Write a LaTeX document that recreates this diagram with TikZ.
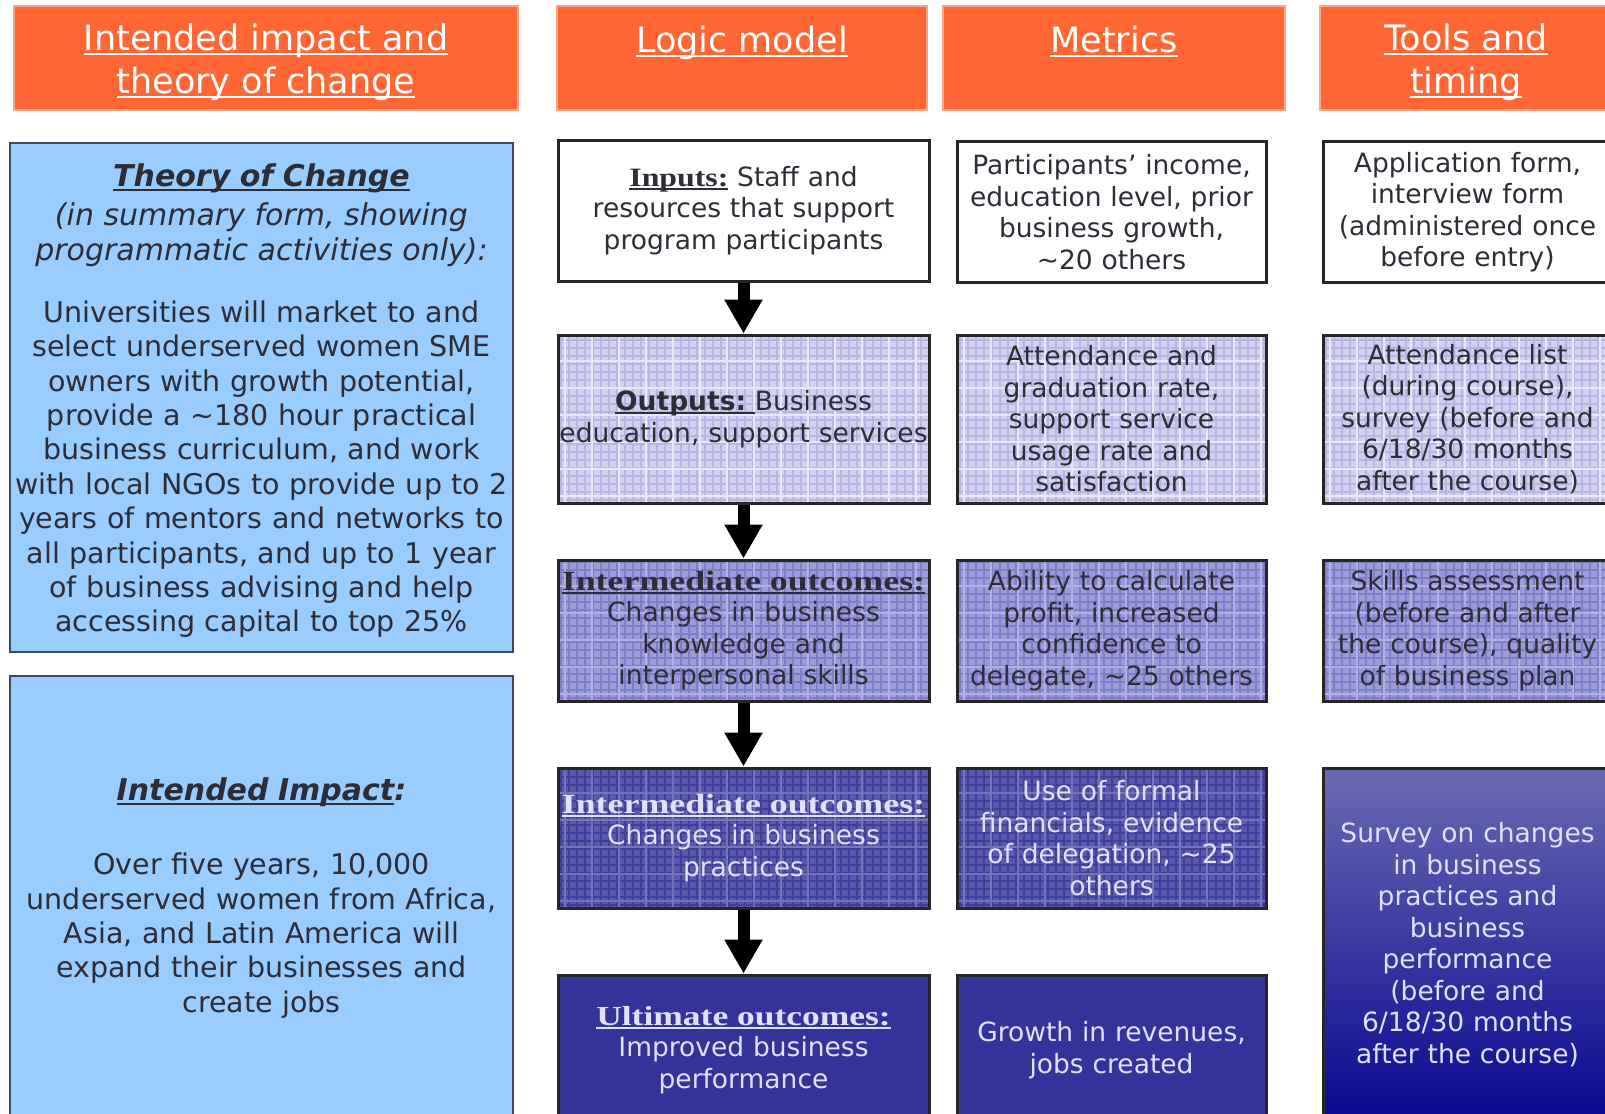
\documentclass[tikz,border=0pt]{standalone}
\usepackage{fontspec}
\setmainfont{DejaVu Sans}
\newfontfamily\headserif[FakeStretch=1.2]{Liberation Serif}
\newfontfamily\wideserif[FakeStretch=1.29]{Liberation Serif}
\usetikzlibrary{arrows.meta}

\definecolor{hdr}{RGB}{255,102,51}
\definecolor{hdredge}{RGB}{255,165,135}
\definecolor{tocblue}{RGB}{153,204,255}
\definecolor{tocedge}{RGB}{62,74,92}
\definecolor{txtdark}{RGB}{45,45,55}
\definecolor{txtlight}{RGB}{225,225,252}
\definecolor{lvAfill}{RGB}{208,208,240}
\definecolor{lvAline}{RGB}{182,182,228}
\definecolor{lvAhi}{RGB}{232,232,250}
\definecolor{lvBfill}{RGB}{155,155,215}
\definecolor{lvBline}{RGB}{126,126,198}
\definecolor{lvBhi}{RGB}{176,176,226}
\definecolor{lvCfill}{RGB}{90,90,172}
\definecolor{lvCline}{RGB}{64,64,156}
\definecolor{lvChi}{RGB}{116,116,186}
\definecolor{deepblue}{RGB}{51,51,153}
\definecolor{gradtop}{RGB}{106,106,178}
\definecolor{gradbot}{RGB}{8,8,145}

% underline at a fixed depth below the baseline
\newcommand{\myul}[1]{\leavevmode\setbox0\hbox{#1}\rlap{\rule[-0.13em]{\wd0}{0.065em}}\box0}

\begin{document}
\begin{tikzpicture}[x=1pt, y=-1pt,
  sz/.style 2 args={minimum width=#1pt, minimum height=#2pt, text width=#1pt},
  hdrbox/.style={draw=hdredge, line width=2pt, fill=hdr, inner sep=0pt},
  hdrtext/.style={text=white, inner sep=0pt, align=center, font=\fontsize{35}{43}\selectfont},
  tocbox/.style={draw=tocedge, line width=2.5pt, fill=tocblue, text=txtdark,
    inner sep=0pt, align=center, font=\fontsize{28.5}{34.4}\selectfont},
  toctext/.style={text=txtdark, inner sep=0pt, align=center, text width=503pt,
    font=\fontsize{28.5}{34.4}\selectfont},
  cell/.style={draw=black!85, line width=3pt, inner sep=0pt, align=center,
    font=\fontsize{26.5}{31.5}\selectfont},
  plaid/.style n args={3}{fill=#1, path picture={
    \foreach \k in {0,...,48}{
      \draw[#2, line width=1.3pt] ([xshift=\k*8pt+3pt]path picture bounding box.south west) -- ++(0pt,220pt);}
    \foreach \k in {0,...,24}{
      \draw[#2, line width=1.3pt] ([yshift=\k*8pt+3pt]path picture bounding box.south west) -- ++(420pt,0pt);}
    \foreach \k in {0,...,15}{
      \draw[#3, line width=1.1pt] ([xshift=\k*27pt+7pt]path picture bounding box.south west) -- ++(0pt,220pt);}
    \foreach \k in {0,...,7}{
      \draw[#3, line width=1.1pt] ([yshift=\k*27pt+7pt]path picture bounding box.south west) -- ++(420pt,0pt);}
  }},
  flowarrow/.style={line width=12pt, -{Triangle[length=34pt,width=36pt]}},
]
\clip (0,0) rectangle (1605,1113);
\fill[white] (0,0) rectangle (1605,1113);

% column headers
\node[hdrbox, minimum width=504pt, minimum height=104pt] (h1) at (266,58) {};
\node[hdrbox, minimum width=370pt, minimum height=104pt] (h2) at (742,58) {};
\node[hdrbox, minimum width=342pt, minimum height=104pt] (h3) at (1114,58) {};
\node[hdrbox, minimum width=292pt, minimum height=104pt] (h4) at (1466,58) {};
\node[hdrtext] (h1t) at (266,62.5) {\myul{Intended impact and}\\\myul{theory of change}};
\node[hdrtext] (h2t) at (742,61) {\myul{Logic model}\\\mbox{}};
\node[hdrtext] (h3t) at (1114,61) {\myul{Metrics}\\\mbox{}};
\node[hdrtext] (h4t) at (1466,62.5) {\myul{Tools and}\\\myul{timing}};

% left column
\node[tocbox, minimum width=503pt, minimum height=509pt] (toc) at (261.5,397.5) {};
\node[toctext] (toct) at (261.5,401) {%
  {\bfseries\itshape\fontsize{30}{34.4}\selectfont\myul{Theory of Change}}\\[4.6pt]
  {\itshape\fontsize{30}{34.4}\selectfont (in summary form, showing\\programmatic activities only):}\\[27.6pt]
  Universities will market to and\\
  select underserved women SME\\
  owners with growth potential,\\
  provide a \textasciitilde180 hour practical\\
  business curriculum, and work\\
  with local NGOs to provide up to 2\\
  years of mentors and networks to\\
  all participants, and up to 1 year\\
  of business advising and help\\
  accessing capital to top 25\%};
\node[tocbox, sz={503}{444}] (impact) at (261.5,898) {%
  {\bfseries\itshape\fontsize{30}{34.4}\selectfont\myul{Intended Impact}:}\\[39.6pt]
  Over five years, 10,000\\
  underserved women from Africa,\\
  Asia, and Latin America will\\
  expand their businesses and\\
  create jobs};

% logic model column
\node[cell, sz={371}{141}, fill=white, text=txtdark] (lm1) at (743.5,210.5) {%
  {\headserif\bfseries\myul{Inputs:}} Staff and\\resources that support\\program participants};
\node[cell, sz={371}{168}, plaid={lvAfill}{lvAline}{lvAhi}, text=txtdark] (lm2) at (743.5,419) {%
  {\bfseries\myul{Outputs:\ }}Business\\education, support services};
\node[cell, sz={371}{141}, plaid={lvBfill}{lvBline}{lvBhi}, text=txtdark] (lm3) at (743.5,630.5) {%
  {\wideserif\bfseries\fontsize{27.8}{31.5}\selectfont\myul{Intermediate outcomes:}}\\Changes in business\\knowledge and\\interpersonal skills};
\node[cell, sz={371}{140}, plaid={lvCfill}{lvCline}{lvChi}, text=txtlight] (lm4) at (743.5,838) {%
  {\wideserif\bfseries\fontsize{27.8}{31.5}\selectfont\myul{Intermediate outcomes:}}\\Changes in business\\practices};
\node[cell, sz={371}{150}, fill=deepblue, text=txtlight] (lm5) at (743.5,1050) {%
  {\wideserif\bfseries\fontsize{27.5}{31.5}\selectfont\myul{Ultimate outcomes:}}\\Improved business\\performance};

\draw[flowarrow] (lm1.south) -- (lm2.north);
\draw[flowarrow] (lm2.south) -- (lm3.north);
\draw[flowarrow] (lm3.south) -- (lm4.north);
\draw[flowarrow] (lm4.south) -- (lm5.north);

% metrics column
\node[cell, sz={309}{141}, fill=white, text=txtdark] (mt1) at (1111.5,212) {%
  Participants’ income,\\education level, prior\\business growth,\\\textasciitilde20 others};
\node[cell, sz={309}{168}, plaid={lvAfill}{lvAline}{lvAhi}, text=txtdark] (mt2) at (1111.5,419) {%
  Attendance and\\graduation rate,\\support service\\usage rate and\\satisfaction};
\node[cell, sz={309}{141}, plaid={lvBfill}{lvBline}{lvBhi}, text=txtdark] (mt3) at (1111.5,630.5) {%
  Ability to calculate\\profit, increased\\confidence to\\delegate, \textasciitilde25 others};
\node[cell, sz={309}{140}, plaid={lvCfill}{lvCline}{lvChi}, text=txtlight] (mt4) at (1111.5,838) {%
  Use of formal\\financials, evidence\\of delegation, \textasciitilde25\\others};
\node[cell, sz={309}{150}, fill=deepblue, text=txtlight] (mt5) at (1111.5,1050) {%
  Growth in revenues,\\jobs created};

% tools and timing column
\node[cell, sz={289}{141}, fill=white, text=txtdark] (tl1) at (1467.5,212) {%
  Application form,\\interview form\\(administered once\\before entry)};
\node[cell, sz={289}{168}, plaid={lvAfill}{lvAline}{lvAhi}, text=txtdark] (tl2) at (1467.5,419) {%
  Attendance list\\(during course),\\survey (before and\\6/18/30 months\\after the course)};
\node[cell, sz={289}{141}, plaid={lvBfill}{lvBline}{lvBhi}, text=txtdark] (tl3) at (1467.5,630.5) {%
  Skills assessment\\(before and after\\the course), quality\\of business plan};
\node[cell, sz={289}{353}, top color=gradtop, bottom color=gradbot, text=txtlight] (tl4) at (1467.5,944.5) {%
  Survey on changes\\in business\\practices and\\business\\performance\\(before and\\6/18/30 months\\after the course)};
\end{tikzpicture}
\end{document}
